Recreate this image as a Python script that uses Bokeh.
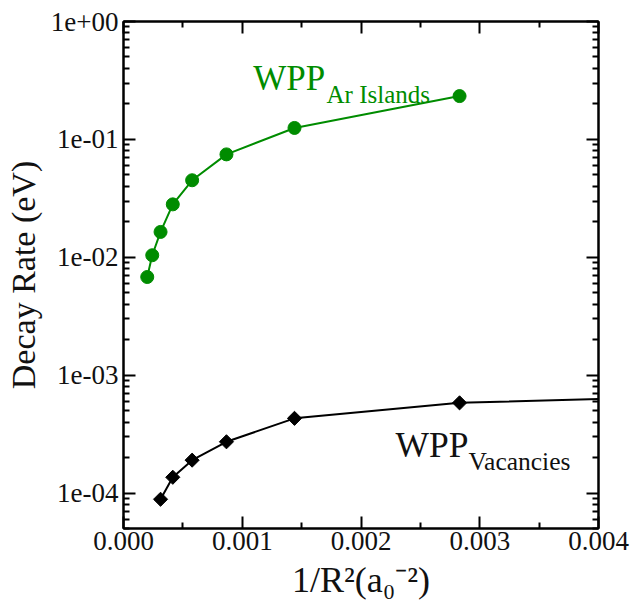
import math
from bokeh.plotting import figure
from bokeh.models import (LinearAxis, LogAxis, FixedTicker, CustomJSTickFormatter,
                          PrintfTickFormatter, Label, Range1d)
from bokeh.embed import file_html
from bokeh.resources import INLINE

# ---- data ----
ar_x = [0.000200, 0.000242, 0.000312, 0.000415, 0.000578, 0.000867, 0.00144, 0.00283]
ar_y = [0.0068, 0.0104, 0.0164, 0.0281, 0.045, 0.0746, 0.125, 0.233]

vac_x = [0.000312, 0.000415, 0.000578, 0.000867, 0.00144, 0.00283]
vac_y = [8.85e-5, 1.36e-4, 1.90e-4, 2.72e-4, 4.30e-4, 5.82e-4]
# the black curve continues to the right edge of the frame
vac_line_x = vac_x + [0.004]
vac_line_y = vac_y + [6.26e-4]

x_ticks = [0.0, 0.001, 0.002, 0.003, 0.004]
x_minor = [0.0005, 0.0015, 0.0025, 0.0035]
y_ticks = [1e-4, 1e-3, 1e-2, 1e-1, 1e0]
y_minor = [m * 10.0 ** e for e in range(-5, 0) for m in range(2, 10) if m * 10.0 ** e >= 5e-5]

x_title = "1/R\u00b2(a\u2080\u207b\u00b2)"
y_title = "Decay Rate (eV)"

GREEN = "#008c00"
INK = "#111111"
SERIF = "Liberation Serif"

p = figure(width=630, height=608, x_range=Range1d(0, 0.004), y_range=Range1d(5e-5, 1),
           y_axis_type="log", output_backend="svg", toolbar_location=None,
           min_border_left=123, min_border_right=32, min_border_top=21, min_border_bottom=80)
p.grid.visible = False
p.outline_line_color = "black"
p.outline_line_width = 2
p.background_fill_color = "white"
p.border_fill_color = "white"

p.add_layout(LinearAxis(), "above")
p.add_layout(LogAxis(), "right")

for ax in p.xaxis:
    ax.ticker = FixedTicker(ticks=x_ticks, minor_ticks=x_minor)
for ax in p.yaxis:
    ax.ticker = FixedTicker(ticks=y_ticks, minor_ticks=y_minor)

for ax in p.xaxis + p.yaxis:
    ax.axis_line_width = 2
    ax.major_tick_line_width = 2
    ax.minor_tick_line_width = 2
    ax.major_tick_in = 12
    ax.major_tick_out = 0
    ax.minor_tick_in = 6
    ax.minor_tick_out = 0
    ax.major_label_text_font = SERIF
    ax.major_label_text_font_size = "27px"
    ax.major_label_text_color = INK
    ax.axis_label_text_font = SERIF
    ax.axis_label_text_font_style = "normal"
    ax.axis_label_text_color = INK

bx = p.below[0]
bx.formatter = PrintfTickFormatter(format="%.3f")
bx.major_label_standoff = 3
bx.axis_label = x_title
bx.axis_label_text_font_size = "36px"
bx.axis_label_standoff = 7

ly = p.left[0]
ly.formatter = CustomJSTickFormatter(code="""
const e = Math.round(Math.log10(tick));
const a = Math.abs(e);
return '1e' + (e < 0 ? '-' : '+') + (a < 10 ? '0' : '') + a;
""")
ly.major_label_standoff = 5
ly.axis_label = y_title
ly.axis_label_text_font_size = "34px"
ly.axis_label_standoff = 6

p.above[0].formatter = CustomJSTickFormatter(code="return ''")
p.right[0].formatter = CustomJSTickFormatter(code="return ''")

# ---- series ----
p.line(ar_x, ar_y, line_color=GREEN, line_width=2)
p.scatter(ar_x, ar_y, size=13, fill_color=GREEN, line_color=GREEN)
p.line(vac_line_x, vac_line_y, line_color="black", line_width=2)
p.scatter(vac_x, vac_y, marker="square", size=10, angle=math.pi / 4,
          fill_color="black", line_color="black")

# ---- series labels ----
def lab(x, y, text, size, color):
    p.add_layout(Label(x=x, y=y, text=text, text_font=SERIF, text_font_size=size,
                       text_color=color, text_baseline="alphabetic", text_align="left"))

lab(0.001092, 0.3314, "WPP", "35px", GREEN)
lab(0.00171, 0.2426, "Ar Islands", "25px", GREEN)
lab(0.00229, 2.54e-4, "WPP", "35.5px", INK)
lab(0.002905, 1.857e-4, "Vacancies", "25.5px", INK)

open("out.html", "w").write(file_html(p, INLINE))
